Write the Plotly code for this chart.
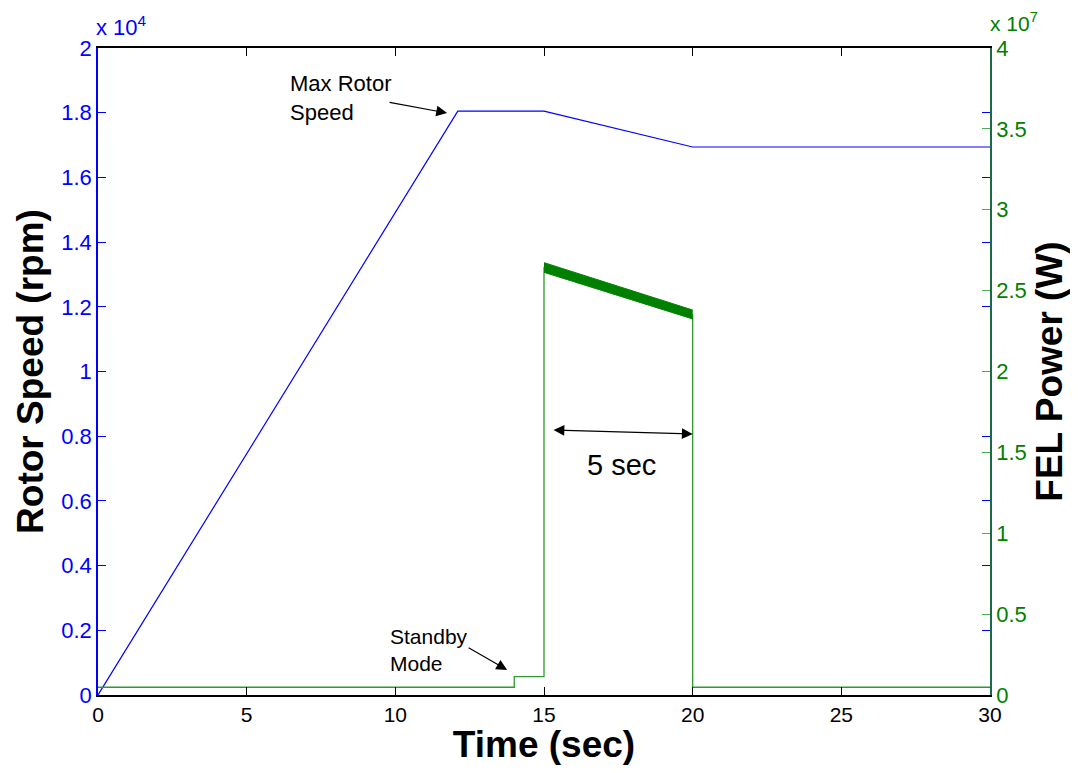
import plotly.graph_objects as go

# ---- data ----
time_rotor = [0, 12.1, 15, 20, 30]
rotor_rpm = [0, 18050, 18050, 16940, 16940]

time_power = [0, 14, 14, 15, 15, 20, 20, 30]
power_w = [4.8e5, 4.8e5, 1.13e6, 1.13e6, 2.64e7, 2.35e7, 4.8e5, 4.8e5]

time_band = [15, 20]
band_upper = [2.673e7, 2.38e7]
band_lower = [2.613e7, 2.325e7]

x_ticks = [0, 5, 10, 15, 20, 25, 30]
y1_ticks = [0, 2000, 4000, 6000, 8000, 10000, 12000, 14000, 16000, 18000, 20000]
y1_ticktext = ["0", "0.2", "0.4", "0.6", "0.8", "1", "1.2", "1.4", "1.6", "1.8", "2"]
y2_ticks = [0, 0.5e7, 1e7, 1.5e7, 2e7, 2.5e7, 3e7, 3.5e7, 4e7]
y2_ticktext = ["0", "0.5", "1", "1.5", "2", "2.5", "3", "3.5", "4"]

BLUE = "#0000ff"
GREEN = "#008000"
FONT = "Liberation Sans, Arial, sans-serif"

fig = go.Figure()

fig.add_trace(go.Scatter(x=time_rotor, y=rotor_rpm, mode="lines",
                         line=dict(color=BLUE, width=1.2), yaxis="y",
                         showlegend=False, hoverinfo="skip"))
fig.add_trace(go.Scatter(x=time_power, y=power_w, mode="lines",
                         line=dict(color="#2e9a2e", width=1.3), yaxis="y2",
                         showlegend=False, hoverinfo="skip"))
fig.add_trace(go.Scatter(x=time_band, y=band_lower, mode="lines",
                         line=dict(color=GREEN, width=1), yaxis="y2",
                         showlegend=False, hoverinfo="skip"))
fig.add_trace(go.Scatter(x=time_band, y=band_upper, mode="lines",
                         line=dict(color=GREEN, width=1), fill="tonexty",
                         fillcolor=GREEN, yaxis="y2",
                         showlegend=False, hoverinfo="skip"))

fig.update_layout(
    width=1062, height=757,
    margin=dict(l=90, r=80, t=40, b=70),
    plot_bgcolor="white", paper_bgcolor="white",
    font=dict(family=FONT, size=21, color="black"),
    xaxis=dict(range=[0, 30], tickvals=x_ticks, ticks="inside", ticklen=8,
               tickcolor="black", showline=True, linecolor="black", linewidth=1.5,
               mirror="ticks", showgrid=False, zeroline=False, automargin=False,
               tickfont=dict(size=21, color="black"),
               title=dict(text="<b>Time (sec)</b>", font=dict(size=37, color="black"),
                          standoff=4)),
    yaxis=dict(range=[0, 20000], tickvals=y1_ticks, ticktext=y1_ticktext,
               ticks="inside", ticklen=8, tickcolor=BLUE, showline=True,
               linecolor=BLUE, linewidth=1.5, mirror="ticks", showgrid=False,
               zeroline=False, automargin=False, tickfont=dict(size=22, color=BLUE),
               title=dict(text="<b>Rotor Speed (rpm)</b>",
                          font=dict(size=37, color="black"), standoff=6)),
    yaxis2=dict(range=[0, 4e7], tickvals=y2_ticks, ticktext=y2_ticktext,
                overlaying="y", side="right", ticks="inside", ticklen=8,
                tickcolor="#4caf50", showline=True, linecolor="#1a6a4a",
                linewidth=1.5, showgrid=False, zeroline=False, automargin=False,
                tickfont=dict(size=22, color=GREEN),
                title=dict(text="<b>FEL Power (W)</b>",
                           font=dict(size=37, color="black"), standoff=10)),
)

annotations = [
    # exponent labels
    dict(xref="paper", yref="paper", x=0, y=1, xanchor="left", yanchor="bottom",
         text="x 10<sup>4</sup>", showarrow=False, yshift=6, xshift=-4,
         font=dict(size=22, color=BLUE)),
    dict(xref="paper", yref="paper", x=1, y=1, xanchor="left", yanchor="bottom",
         text="x 10<sup>7</sup>", showarrow=False, yshift=11, xshift=-2,
         font=dict(size=21, color=GREEN)),
    # Max Rotor Speed
    dict(x=6.40, y=18455, xref="x", yref="y", xanchor="left", yanchor="middle",
         text="Max Rotor<br>Speed", align="left", showarrow=False,
         font=dict(size=22, color="black")),
    dict(x=11.74, y=17990, xref="x", yref="y", ax=-59, ay=-11, text="",
         showarrow=True, arrowhead=2, arrowsize=1.8, arrowwidth=1.2,
         arrowcolor="black"),
    # Standby Mode
    dict(x=9.75, y=1391, xref="x", yref="y", xanchor="left", yanchor="middle",
         text="Standby<br>Mode", align="left", showarrow=False,
         font=dict(size=21, color="black")),
    dict(x=13.76, y=773, xref="x", yref="y", ax=-40, ay=-23, text="",
         showarrow=True, arrowhead=2, arrowsize=1.8, arrowwidth=1.2,
         arrowcolor="black"),
    # 5 sec double arrow
    dict(x=20.0, y=8068, xref="x", yref="y", ax=15.27, ay=8192,
         axref="x", ayref="y", text="", showarrow=True, arrowhead=2,
         startarrowhead=2, arrowside="end+start", arrowsize=1.8,
         startarrowsize=1.8, arrowwidth=1.2, arrowcolor="black"),
    dict(x=17.62, y=7110, xref="x", yref="y", text="5 sec", showarrow=False,
         font=dict(size=29, color="black")),
]
fig.update_layout(annotations=annotations)

fig.write_html("out.html")
